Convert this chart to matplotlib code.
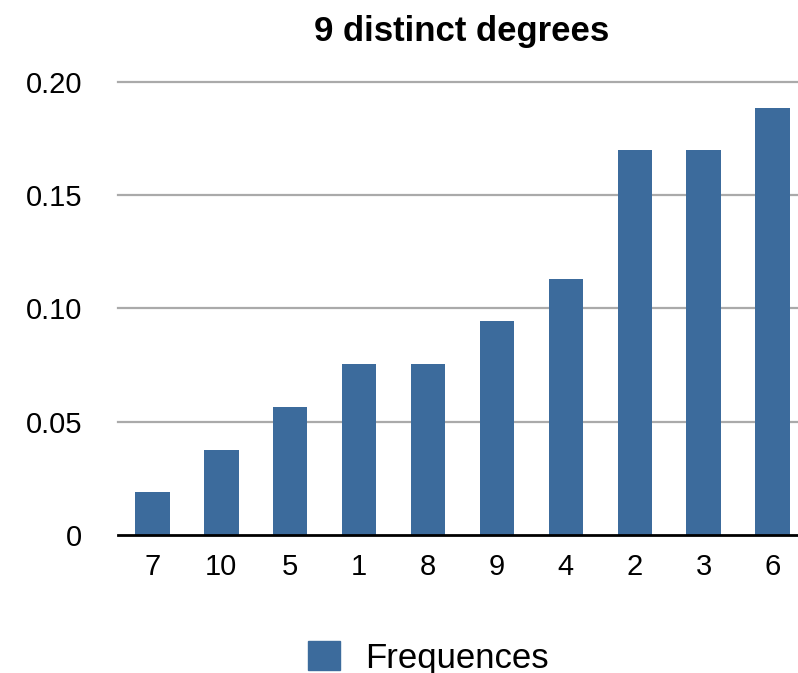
import matplotlib
matplotlib.use("Agg")
import matplotlib.pyplot as plt
from matplotlib.patches import Patch

plt.rcParams['font.family'] = ['Liberation Sans', 'DejaVu Sans']

degrees = ["7", "10", "5", "1", "8", "9", "4", "2", "3", "6"]
frequences = [0.0189, 0.0377, 0.0566, 0.0755, 0.0755, 0.0943, 0.1132, 0.1698, 0.1698, 0.1887]
yticks = [0, 0.05, 0.10, 0.15, 0.20]
ylabels = ["0", "0.05", "0.10", "0.15", "0.20"]

barcolor = "#3c6b9c"

fig = plt.figure(figsize=(7.98, 6.73), dpi=100)
ax = fig.add_axes([118/798, 1 - 535/673, (807 - 118)/798, (535 - 82)/673])

x = range(len(degrees))
ax.bar(x, frequences, width=0.5, color=barcolor, zorder=3)
ax.set_xlim(-0.5, len(degrees) - 0.5)
ax.set_ylim(0, 0.20)

ax.set_yticks(yticks)
ax.set_yticklabels(ylabels)
ax.set_xticks(list(x))
ax.set_xticklabels(degrees)
ax.tick_params(axis='both', length=0, labelsize=21)
ax.tick_params(axis='x', pad=13)
ax.tick_params(axis='y', pad=26)

for y in yticks[1:]:
    ax.axhline(y, color="#aaaaaa", lw=1.6, zorder=1, clip_on=False)

for s in ['top', 'right', 'left']:
    ax.spines[s].set_visible(False)
ax.spines['bottom'].set_color('black')
ax.spines['bottom'].set_linewidth(2)
ax.spines['bottom'].set_zorder(4)

fig.text(462/798, 1 - 31/673, "9 distinct degrees", ha='center', va='center',
         fontsize=25, fontweight='bold')

fig.legend([Patch(color=barcolor)], ["Frequences"], loc='center',
           bbox_to_anchor=(428/798, 1 - 658/673), frameon=False, fontsize=25,
           handlelength=0.92, handleheight=0.9, handletextpad=0.72)

fig.savefig("out.png", dpi=100)
